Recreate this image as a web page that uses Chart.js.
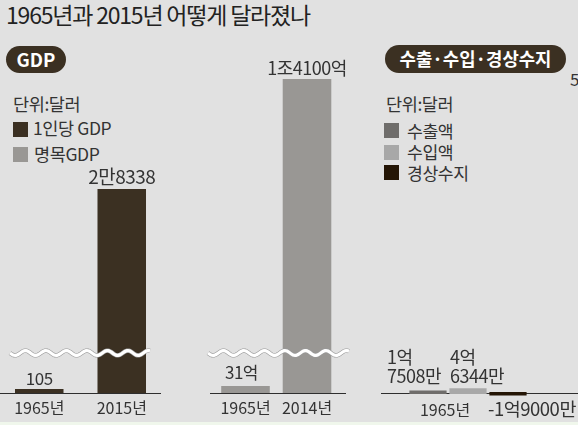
<!DOCTYPE html>
<html><head><meta charset="utf-8">
<style>
html,body{margin:0;padding:0;background:#e1e1e1;width:578px;height:425px;overflow:hidden;font-family:"Noto Sans CJK KR",sans-serif;color:#333}
canvas{position:absolute;top:0}
.t{position:absolute;white-space:nowrap;line-height:1}
.pill{position:absolute;background:#3b3022;color:#fff;font-weight:700;border-radius:14px;text-align:center}
.sw{position:absolute;width:15px;height:15px}
#strip{position:absolute;left:0;top:422px;width:578px;height:3px;background:#f0f7ec}
</style>
<script src="https://cdn.jsdelivr.net/npm/chart.js@4/dist/chart.umd.min.js"></script>
</head><body>
<div class="t" style="left:6px;top:3px;font-size:23px;letter-spacing:-1.2px;color:#222" id="title"></div>
<div class="pill" style="left:6px;top:46px;width:60px;height:27px;line-height:26px;font-size:18.5px" id="p1"></div>
<div class="pill" style="left:385px;top:45px;width:181px;height:28px;line-height:27px;font-size:17.8px" id="p2"></div>
<div class="t" style="left:570px;top:70px;font-size:17px">5</div>
<div id="legends"></div>
<div id="strip"></div>
<canvas id="c1" width="165" height="425" style="left:-2px"></canvas>
<canvas id="c2" width="150" height="425" style="left:205px"></canvas>
<canvas id="c3" width="197" height="425" style="left:381px"></canvas>
<script>
const titleText = "1965년과 2015년 어떻게 달라졌나";
const panelTitles = ["GDP", "수출·수입·경상수지"];
const unitText = "단위:달러";
const gdpLegend = ["1인당 GDP", "명목GDP"];
const tradeLegend = ["수출액", "수입액", "경상수지"];

const perCapitaYears = ["1965년", "2015년"];
const perCapitaValues = [105, 28338];
const perCapitaLabels = ["105", "2만8338"];

const nominalYears = ["1965년", "2014년"];
const nominalValues = [3100000000, 1410000000000];
const nominalLabels = ["31억", "1조4100억"];

const tradeYears = ["1965년"];
const exportValues = [175080000];
const importValues = [463440000];
const balanceValues = [-190000000];

const DARK = "#3b3022", GREY = "#999794", EXP = "#6f6d6b", IMP = "#a8a8a8", BAL = "#241505";
const FONT = '"Noto Sans CJK KR", sans-serif';

document.getElementById("title").textContent = titleText;
document.getElementById("p1").textContent = panelTitles[0];
document.getElementById("p2").textContent = panelTitles[1];

function addT(parent, txt, x, cy, size){
  const d = document.createElement("div"); d.className = "t";
  d.style.cssText = `left:${x}px;top:${cy - size / 2}px;font-size:${size}px;letter-spacing:-.4px`;
  d.textContent = txt; parent.appendChild(d);
}
function addS(parent, col, x, y){
  const d = document.createElement("div"); d.className = "sw";
  d.style.cssText = `left:${x}px;top:${y}px;background:${col}`; parent.appendChild(d);
}
const L = document.getElementById("legends");
addT(L, unitText, 13, 104, 17.5);
addS(L, DARK, 13, 122); addT(L, gdpLegend[0], 33, 128, 17.5);
addS(L, GREY, 13, 147); addT(L, gdpLegend[1], 34, 154, 17.5);
addT(L, unitText, 386, 104, 17.5);
addS(L, EXP, 384, 123); addT(L, tradeLegend[0], 407, 131, 17.2);
addS(L, IMP, 384, 145); addT(L, tradeLegend[1], 407, 152, 17.2);
addS(L, BAL, 384, 165); addT(L, tradeLegend[2], 407, 173, 17.2);

// piecewise linear value axis: the part above the break is compressed
class BrokenScale extends Chart.LinearScale {
  getPixelForValue(v){
    if (v === null || v === undefined) return NaN;
    const o = this.options, b = o.breakValue, f = o.breakFraction;
    let d;
    if (v <= b) d = v / b * f;
    else d = f + (v - b) / (this.max - b) * (1 - f);
    return this.getPixelForDecimal(d);
  }
}
BrokenScale.id = "broken";
BrokenScale.defaults = Chart.LinearScale.defaults;
Chart.register(BrokenScale);

Chart.defaults.font.family = FONT;
Chart.defaults.animation = false;
Chart.defaults.devicePixelRatio = 1;

function wave(ctx, x0, x1, y){
  const draw = () => {
    ctx.beginPath();
    for (let x = x0; x <= x1; x += 1) {
      const yy = y + 2.4 * Math.sin((x - x0) * 2 * Math.PI / 20.5);
      x === x0 ? ctx.moveTo(x, yy) : ctx.lineTo(x, yy);
    }
    ctx.stroke();
  };
  ctx.save();
  ctx.strokeStyle = "#9a9a9a"; ctx.lineWidth = 4.4; draw();
  ctx.strokeStyle = "#ffffff"; ctx.lineWidth = 3.2; draw();
  ctx.restore();
}
function txt(ctx, s, x, y, align, size){
  ctx.save();
  ctx.fillStyle = "#333"; ctx.font = `${size || 18}px ${FONT}`;
  ctx.textAlign = align || "center"; ctx.textBaseline = "alphabetic";
  ctx.letterSpacing = "-0.5px";
  ctx.fillText(s, x, y); ctx.restore();
}
function baseline(x0, x1){
  return {
    id: "baseline",
    beforeDatasetsDraw(ch){
      const y = Math.round(ch.scales.y.getPixelForValue(0)) + .5, c = ch.ctx;
      c.save(); c.strokeStyle = "#2e2e2e"; c.lineWidth = 1;
      c.beginPath(); c.moveTo(x0, y); c.lineTo(x1, y); c.stroke(); c.restore();
    }
  };
}
function barOpts(extra){
  return Object.assign({
    responsive: false, maintainAspectRatio: false,
    plugins: { legend: { display: false }, tooltip: { enabled: false } },
  }, extra);
}
function xAxis(h, pad, offset){
  return {
    type: "category",
    afterFit(s){ s.height = h; },
    grid: { display: false, drawTicks: false }, border: { display: false },
    ticks: { color: "#333", font: { size: 16 }, padding: pad, maxRotation: 0, autoSkip: false, labelOffset: offset || 0 },
  };
}

new Chart(document.getElementById("c1"), {
  type: "bar",
  data: { labels: perCapitaYears, datasets: [{ data: perCapitaValues, backgroundColor: DARK, barPercentage: .588, categoryPercentage: 1 }] },
  options: barOpts({
    scales: {
      x: xAxis(32, 5),
      y: { type: "broken", display: false, min: 0, max: 59786, breakValue: 1050, breakFraction: 40 / 393 }
    }
  }),
  plugins: [baseline(2, 163), {
    id: "l1",
    afterDatasetsDraw(ch){
      const m = ch.getDatasetMeta(0).data;
      txt(ch.ctx, perCapitaLabels[0], m[0].x, m[0].y - 4, "center", 17);
      txt(ch.ctx, perCapitaLabels[1], m[1].x, m[1].y - 5, "center", 19);
      wave(ch.ctx, 12, 152, ch.scales.y.getPixelForValue(1050));
    }
  }]
});

new Chart(document.getElementById("c2"), {
  type: "bar",
  data: { labels: nominalYears, datasets: [{ data: nominalValues, backgroundColor: GREY, barPercentage: .79, categoryPercentage: 1 }] },
  options: barOpts({
    layout: { padding: { left: 9.75, right: 17.25 } },
    scales: {
      x: xAxis(32, 5),
      y: { type: "broken", display: false, min: 0, max: 1811500000000, breakValue: 17700000000, breakFraction: 40 / 393 }
    }
  }),
  plugins: [baseline(5, 141), {
    id: "l2",
    afterDatasetsDraw(ch){
      const m = ch.getDatasetMeta(0).data;
      txt(ch.ctx, nominalLabels[0], m[0].x - 4, m[0].y - 7, "center", 17);
      txt(ch.ctx, nominalLabels[1], m[1].x, m[1].y - 4, "center", 18);
      wave(ch.ctx, 3, 144, ch.scales.y.getPixelForValue(17700000000));
    }
  }]
});

new Chart(document.getElementById("c3"), {
  type: "bar",
  data: { labels: tradeYears, datasets: [
    { data: exportValues, backgroundColor: EXP, inflateAmount: 1 },
    { data: importValues, backgroundColor: IMP, inflateAmount: 1 },
    { data: balanceValues, backgroundColor: BAL, inflateAmount: 1 }
  ] },
  options: barOpts({
    layout: { padding: { right: 23 } },
    datasets: { bar: { categoryPercentage: 120 / 174, barPercentage: .88 } },
    scales: {
      x: xAxis(22, -3, -23),
      y: { type: "linear", display: false, min: -1200000000, max: 47160000000 }
    }
  }),
  plugins: [baseline(0, 197), {
    id: "l3",
    afterDatasetsDraw(ch){
      const a = ch.getDatasetMeta(0).data[0], b = ch.getDatasetMeta(1).data[0], c = ch.getDatasetMeta(2).data[0];
      const yy = ch.scales.y.getPixelForValue(0);
      txt(ch.ctx, "1억", a.x - 41, yy - 29, "left");
      txt(ch.ctx, "7508만", a.x - 41, yy - 10, "left");
      txt(ch.ctx, "4억", b.x - 18, yy - 29, "left");
      txt(ch.ctx, "6344만", b.x - 18, yy - 10, "left");
      txt(ch.ctx, "-1억9000만", c.x + 24, yy + 23, "center", 18.5);
    }
  }]
});
</script>
</body></html>
